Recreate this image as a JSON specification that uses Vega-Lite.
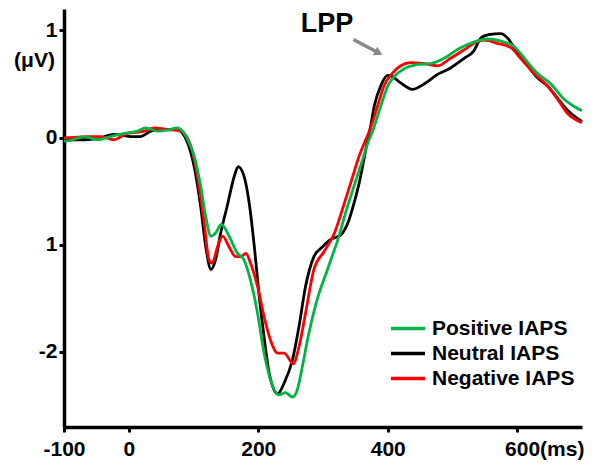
{
  "$schema": "https://vega.github.io/schema/vega-lite/v6.json",
  "width": 518,
  "height": 418,
  "autosize": {"type": "none"},
  "padding": {"left": 64, "top": 9, "right": 16, "bottom": 38},
  "background": "white",
  "config": {
    "view": {"stroke": null},
    "font": "Liberation Sans",
    "axis": {
      "grid": false,
      "domainColor": "black",
      "domainWidth": 3.5,
      "tickColor": "black",
      "tickWidth": 3,
      "tickSize": 5,
      "labelFont": "Liberation Sans",
      "labelFontWeight": "bold",
      "labelFontSize": 21,
      "labelColor": "black",
      "titleFont": "Liberation Sans",
      "titleFontWeight": "bold",
      "titleFontSize": 21,
      "titleColor": "black"
    },
    "legend": {
      "labelFont": "Liberation Sans",
      "labelFontWeight": "bold",
      "labelFontSize": 21,
      "labelColor": "black"
    }
  },
  "datasets": {
    "erp": [
      {"t": -100, "v": -0.02, "c": "Neutral IAPS"},
      {"t": -95, "v": -0.02, "c": "Neutral IAPS"},
      {"t": -69, "v": -0.02, "c": "Neutral IAPS"},
      {"t": -43, "v": 0.0, "c": "Neutral IAPS"},
      {"t": -23, "v": 0.03, "c": "Neutral IAPS"},
      {"t": 3, "v": 0.01, "c": "Neutral IAPS"},
      {"t": 18, "v": 0.01, "c": "Neutral IAPS"},
      {"t": 34, "v": 0.06, "c": "Neutral IAPS"},
      {"t": 49, "v": 0.08, "c": "Neutral IAPS"},
      {"t": 75, "v": 0.075, "c": "Neutral IAPS"},
      {"t": 91, "v": -0.05, "c": "Neutral IAPS"},
      {"t": 101, "v": -0.27, "c": "Neutral IAPS"},
      {"t": 111, "v": -0.64, "c": "Neutral IAPS"},
      {"t": 119, "v": -1.02, "c": "Neutral IAPS"},
      {"t": 127, "v": -1.23, "c": "Neutral IAPS"},
      {"t": 134, "v": -1.14, "c": "Neutral IAPS"},
      {"t": 142, "v": -0.89, "c": "Neutral IAPS"},
      {"t": 152, "v": -0.64, "c": "Neutral IAPS"},
      {"t": 163, "v": -0.36, "c": "Neutral IAPS"},
      {"t": 169, "v": -0.27, "c": "Neutral IAPS"},
      {"t": 178, "v": -0.36, "c": "Neutral IAPS"},
      {"t": 186, "v": -0.61, "c": "Neutral IAPS"},
      {"t": 194, "v": -1.02, "c": "Neutral IAPS"},
      {"t": 201, "v": -1.45, "c": "Neutral IAPS"},
      {"t": 209, "v": -1.86, "c": "Neutral IAPS"},
      {"t": 217, "v": -2.2, "c": "Neutral IAPS"},
      {"t": 230, "v": -2.39, "c": "Neutral IAPS"},
      {"t": 240, "v": -2.29, "c": "Neutral IAPS"},
      {"t": 253, "v": -2.07, "c": "Neutral IAPS"},
      {"t": 263, "v": -1.76, "c": "Neutral IAPS"},
      {"t": 273, "v": -1.39, "c": "Neutral IAPS"},
      {"t": 286, "v": -1.11, "c": "Neutral IAPS"},
      {"t": 299, "v": -1.02, "c": "Neutral IAPS"},
      {"t": 312, "v": -0.95, "c": "Neutral IAPS"},
      {"t": 327, "v": -0.91, "c": "Neutral IAPS"},
      {"t": 340, "v": -0.77, "c": "Neutral IAPS"},
      {"t": 348, "v": -0.61, "c": "Neutral IAPS"},
      {"t": 356, "v": -0.42, "c": "Neutral IAPS"},
      {"t": 363, "v": -0.21, "c": "Neutral IAPS"},
      {"t": 369, "v": -0.02, "c": "Neutral IAPS"},
      {"t": 374, "v": 0.12, "c": "Neutral IAPS"},
      {"t": 379, "v": 0.29, "c": "Neutral IAPS"},
      {"t": 389, "v": 0.48, "c": "Neutral IAPS"},
      {"t": 400, "v": 0.58, "c": "Neutral IAPS"},
      {"t": 407, "v": 0.57, "c": "Neutral IAPS"},
      {"t": 420, "v": 0.51, "c": "Neutral IAPS"},
      {"t": 438, "v": 0.45, "c": "Neutral IAPS"},
      {"t": 456, "v": 0.5, "c": "Neutral IAPS"},
      {"t": 477, "v": 0.59, "c": "Neutral IAPS"},
      {"t": 497, "v": 0.65, "c": "Neutral IAPS"},
      {"t": 518, "v": 0.74, "c": "Neutral IAPS"},
      {"t": 533, "v": 0.81, "c": "Neutral IAPS"},
      {"t": 544, "v": 0.93, "c": "Neutral IAPS"},
      {"t": 556, "v": 0.96, "c": "Neutral IAPS"},
      {"t": 575, "v": 0.97, "c": "Neutral IAPS"},
      {"t": 585, "v": 0.93, "c": "Neutral IAPS"},
      {"t": 600, "v": 0.79, "c": "Neutral IAPS"},
      {"t": 616, "v": 0.67, "c": "Neutral IAPS"},
      {"t": 631, "v": 0.56, "c": "Neutral IAPS"},
      {"t": 647, "v": 0.48, "c": "Neutral IAPS"},
      {"t": 662, "v": 0.37, "c": "Neutral IAPS"},
      {"t": 677, "v": 0.26, "c": "Neutral IAPS"},
      {"t": 688, "v": 0.2, "c": "Neutral IAPS"},
      {"t": 700, "v": 0.15, "c": "Neutral IAPS"},

      {"t": -100, "v": 0.0, "c": "Negative IAPS"},
      {"t": -95, "v": 0.0, "c": "Negative IAPS"},
      {"t": -64, "v": 0.01, "c": "Negative IAPS"},
      {"t": -43, "v": 0.01, "c": "Negative IAPS"},
      {"t": -23, "v": -0.02, "c": "Negative IAPS"},
      {"t": -2, "v": 0.04, "c": "Negative IAPS"},
      {"t": 24, "v": 0.06, "c": "Negative IAPS"},
      {"t": 39, "v": 0.09, "c": "Negative IAPS"},
      {"t": 60, "v": 0.075, "c": "Negative IAPS"},
      {"t": 80, "v": 0.06, "c": "Negative IAPS"},
      {"t": 96, "v": -0.08, "c": "Negative IAPS"},
      {"t": 106, "v": -0.36, "c": "Negative IAPS"},
      {"t": 116, "v": -0.77, "c": "Negative IAPS"},
      {"t": 124, "v": -1.14, "c": "Negative IAPS"},
      {"t": 129, "v": -1.17, "c": "Negative IAPS"},
      {"t": 137, "v": -1.02, "c": "Negative IAPS"},
      {"t": 145, "v": -0.92, "c": "Negative IAPS"},
      {"t": 155, "v": -1.02, "c": "Negative IAPS"},
      {"t": 165, "v": -1.11, "c": "Negative IAPS"},
      {"t": 173, "v": -1.11, "c": "Negative IAPS"},
      {"t": 181, "v": -1.08, "c": "Negative IAPS"},
      {"t": 188, "v": -1.17, "c": "Negative IAPS"},
      {"t": 199, "v": -1.39, "c": "Negative IAPS"},
      {"t": 209, "v": -1.67, "c": "Negative IAPS"},
      {"t": 219, "v": -1.89, "c": "Negative IAPS"},
      {"t": 230, "v": -2.01, "c": "Negative IAPS"},
      {"t": 240, "v": -2.01, "c": "Negative IAPS"},
      {"t": 254, "v": -2.11, "c": "Negative IAPS"},
      {"t": 263, "v": -1.95, "c": "Negative IAPS"},
      {"t": 273, "v": -1.64, "c": "Negative IAPS"},
      {"t": 286, "v": -1.23, "c": "Negative IAPS"},
      {"t": 302, "v": -1.06, "c": "Negative IAPS"},
      {"t": 317, "v": -0.9, "c": "Negative IAPS"},
      {"t": 332, "v": -0.63, "c": "Negative IAPS"},
      {"t": 345, "v": -0.38, "c": "Negative IAPS"},
      {"t": 356, "v": -0.17, "c": "Negative IAPS"},
      {"t": 366, "v": -0.02, "c": "Negative IAPS"},
      {"t": 371, "v": 0.05, "c": "Negative IAPS"},
      {"t": 384, "v": 0.29, "c": "Negative IAPS"},
      {"t": 394, "v": 0.48, "c": "Negative IAPS"},
      {"t": 407, "v": 0.6, "c": "Negative IAPS"},
      {"t": 420, "v": 0.67, "c": "Negative IAPS"},
      {"t": 435, "v": 0.7, "c": "Negative IAPS"},
      {"t": 456, "v": 0.69, "c": "Negative IAPS"},
      {"t": 477, "v": 0.67, "c": "Negative IAPS"},
      {"t": 497, "v": 0.74, "c": "Negative IAPS"},
      {"t": 518, "v": 0.82, "c": "Negative IAPS"},
      {"t": 533, "v": 0.88, "c": "Negative IAPS"},
      {"t": 549, "v": 0.91, "c": "Negative IAPS"},
      {"t": 569, "v": 0.88, "c": "Negative IAPS"},
      {"t": 590, "v": 0.84, "c": "Negative IAPS"},
      {"t": 605, "v": 0.74, "c": "Negative IAPS"},
      {"t": 626, "v": 0.6, "c": "Negative IAPS"},
      {"t": 647, "v": 0.48, "c": "Negative IAPS"},
      {"t": 662, "v": 0.36, "c": "Negative IAPS"},
      {"t": 677, "v": 0.23, "c": "Negative IAPS"},
      {"t": 700, "v": 0.14, "c": "Negative IAPS"},

      {"t": -100, "v": -0.03, "c": "Positive IAPS"},
      {"t": -95, "v": -0.03, "c": "Positive IAPS"},
      {"t": -69, "v": 0.01, "c": "Positive IAPS"},
      {"t": -48, "v": -0.02, "c": "Positive IAPS"},
      {"t": -28, "v": 0.01, "c": "Positive IAPS"},
      {"t": -7, "v": 0.04, "c": "Positive IAPS"},
      {"t": 13, "v": 0.06, "c": "Positive IAPS"},
      {"t": 26, "v": 0.09, "c": "Positive IAPS"},
      {"t": 44, "v": 0.06, "c": "Positive IAPS"},
      {"t": 60, "v": 0.07, "c": "Positive IAPS"},
      {"t": 75, "v": 0.09, "c": "Positive IAPS"},
      {"t": 83, "v": 0.06, "c": "Positive IAPS"},
      {"t": 91, "v": -0.02, "c": "Positive IAPS"},
      {"t": 101, "v": -0.17, "c": "Positive IAPS"},
      {"t": 111, "v": -0.45, "c": "Positive IAPS"},
      {"t": 119, "v": -0.74, "c": "Positive IAPS"},
      {"t": 127, "v": -0.92, "c": "Positive IAPS"},
      {"t": 134, "v": -0.89, "c": "Positive IAPS"},
      {"t": 143, "v": -0.81, "c": "Positive IAPS"},
      {"t": 155, "v": -0.92, "c": "Positive IAPS"},
      {"t": 168, "v": -1.08, "c": "Positive IAPS"},
      {"t": 178, "v": -1.14, "c": "Positive IAPS"},
      {"t": 188, "v": -1.33, "c": "Positive IAPS"},
      {"t": 199, "v": -1.64, "c": "Positive IAPS"},
      {"t": 209, "v": -2.01, "c": "Positive IAPS"},
      {"t": 219, "v": -2.26, "c": "Positive IAPS"},
      {"t": 232, "v": -2.4, "c": "Positive IAPS"},
      {"t": 242, "v": -2.38, "c": "Positive IAPS"},
      {"t": 253, "v": -2.42, "c": "Positive IAPS"},
      {"t": 260, "v": -2.36, "c": "Positive IAPS"},
      {"t": 268, "v": -2.14, "c": "Positive IAPS"},
      {"t": 278, "v": -1.83, "c": "Positive IAPS"},
      {"t": 291, "v": -1.51, "c": "Positive IAPS"},
      {"t": 307, "v": -1.23, "c": "Positive IAPS"},
      {"t": 315, "v": -1.09, "c": "Positive IAPS"},
      {"t": 322, "v": -0.97, "c": "Positive IAPS"},
      {"t": 335, "v": -0.7, "c": "Positive IAPS"},
      {"t": 348, "v": -0.45, "c": "Positive IAPS"},
      {"t": 361, "v": -0.21, "c": "Positive IAPS"},
      {"t": 371, "v": -0.02, "c": "Positive IAPS"},
      {"t": 376, "v": 0.05, "c": "Positive IAPS"},
      {"t": 389, "v": 0.29, "c": "Positive IAPS"},
      {"t": 400, "v": 0.48, "c": "Positive IAPS"},
      {"t": 410, "v": 0.57, "c": "Positive IAPS"},
      {"t": 425, "v": 0.64, "c": "Positive IAPS"},
      {"t": 446, "v": 0.68, "c": "Positive IAPS"},
      {"t": 466, "v": 0.69, "c": "Positive IAPS"},
      {"t": 487, "v": 0.74, "c": "Positive IAPS"},
      {"t": 507, "v": 0.82, "c": "Positive IAPS"},
      {"t": 528, "v": 0.88, "c": "Positive IAPS"},
      {"t": 554, "v": 0.92, "c": "Positive IAPS"},
      {"t": 575, "v": 0.9, "c": "Positive IAPS"},
      {"t": 595, "v": 0.85, "c": "Positive IAPS"},
      {"t": 611, "v": 0.74, "c": "Positive IAPS"},
      {"t": 631, "v": 0.6, "c": "Positive IAPS"},
      {"t": 652, "v": 0.5, "c": "Positive IAPS"},
      {"t": 672, "v": 0.36, "c": "Positive IAPS"},
      {"t": 688, "v": 0.29, "c": "Positive IAPS"},
      {"t": 700, "v": 0.25, "c": "Positive IAPS"}
    ],
    "arrow": [
      {"x": 347, "y": 0.916, "x2": 384, "y2": 0.797}
    ],
    "arrowhead": [
      {"x": 386, "y": 0.79}
    ],
    "label": [
      {"x": 306, "y": 1.056, "text": "LPP"}
    ]
  },
  "layer": [
    {
      "mark": {"type": "rule", "color": "#404040", "strokeWidth": 1.5},
      "encoding": {
        "y": {"datum": 0, "type": "quantitative", "scale": {"domain": [-2.7, 1.2], "nice": false, "zero": false}}
      }
    },
    {
      "mark": {"type": "rule", "color": "#777777", "strokeWidth": 1, "strokeDash": [2, 2]},
      "encoding": {
        "x": {"datum": 0, "type": "quantitative", "scale": {"domain": [-100, 700], "nice": false, "zero": false}}
      }
    },
    {
      "data": {"name": "erp"},
      "transform": [{"filter": "datum.c == 'Neutral IAPS'"}],
      "mark": {"type": "line", "strokeWidth": 2.8, "interpolate": "monotone"},
      "encoding": {
        "x": {
          "field": "t", "type": "quantitative",
          "scale": {"domain": [-100, 700], "nice": false, "zero": false},
          "axis": {
            "title": null,
            "values": [-100, 0, 200, 400, 600],
            "labelExpr": "datum.value == -100 ? '-100' : (datum.value == 600 ? '600(ms)' : '' + datum.value)",
            "labelPadding": 6,
            "labelOffset": {"condition": {"test": "datum.value == 600", "value": 27}, "value": 0},
            "labelFlush": false,
            "labelOverlap": false
          }
        },
        "y": {
          "field": "v", "type": "quantitative",
          "scale": {"domain": [-2.7, 1.2], "nice": false, "zero": false},
          "axis": {
            "title": "(μV)",
            "titleAngle": 0,
            "titleX": -30,
            "titleY": 51,
            "titleAlign": "center",
            "titleBaseline": "middle",
            "values": [1, 0, -1, -2],
            "labelExpr": "datum.value == -2 ? '-2' : (datum.value == 0 ? '0' : '1')",
            "labelPadding": 2,
            "labelFlush": false,
            "labelOverlap": false
          }
        },
        "color": {
          "field": "c", "type": "nominal",
          "scale": {"domain": ["Positive IAPS", "Neutral IAPS", "Negative IAPS"], "range": ["#00b446", "#000000", "#ff0000"]},
          "legend": {
            "title": null,
            "orient": "none",
            "legendX": 332,
            "legendY": 307.5,
            "symbolType": "M-1.7,0H1.7",
            "symbolSize": 400,
            "symbolStrokeWidth": 3.5,
            "labelOffset": 12,
            "rowPadding": 3
          }
        }
      }
    },
    {
      "data": {"name": "erp"},
      "transform": [{"filter": "datum.c == 'Negative IAPS'"}],
      "mark": {"type": "line", "strokeWidth": 2.8, "interpolate": "monotone"},
      "encoding": {
        "x": {"field": "t", "type": "quantitative"},
        "y": {"field": "v", "type": "quantitative"},
        "color": {"field": "c", "type": "nominal"}
      }
    },
    {
      "data": {"name": "erp"},
      "transform": [{"filter": "datum.c == 'Positive IAPS'"}],
      "mark": {"type": "line", "strokeWidth": 2.8, "interpolate": "monotone"},
      "encoding": {
        "x": {"field": "t", "type": "quantitative"},
        "y": {"field": "v", "type": "quantitative"},
        "color": {"field": "c", "type": "nominal"}
      }
    },
    {
      "data": {"name": "arrow"},
      "mark": {"type": "rule", "color": "#888888", "strokeWidth": 3.5},
      "encoding": {
        "x": {"field": "x", "type": "quantitative"},
        "y": {"field": "y", "type": "quantitative"},
        "x2": {"field": "x2"},
        "y2": {"field": "y2"}
      }
    },
    {
      "data": {"name": "arrowhead"},
      "mark": {"type": "point", "shape": "triangle-right", "filled": true, "color": "#888888", "size": 90, "angle": 28, "opacity": 1},
      "encoding": {
        "x": {"field": "x", "type": "quantitative"},
        "y": {"field": "y", "type": "quantitative"}
      }
    },
    {
      "data": {"name": "label"},
      "mark": {"type": "text", "font": "Liberation Sans", "fontWeight": "bold", "fontSize": 27, "color": "black", "align": "center", "baseline": "middle"},
      "encoding": {
        "x": {"field": "x", "type": "quantitative"},
        "y": {"field": "y", "type": "quantitative"},
        "text": {"field": "text"}
      }
    }
  ]
}
